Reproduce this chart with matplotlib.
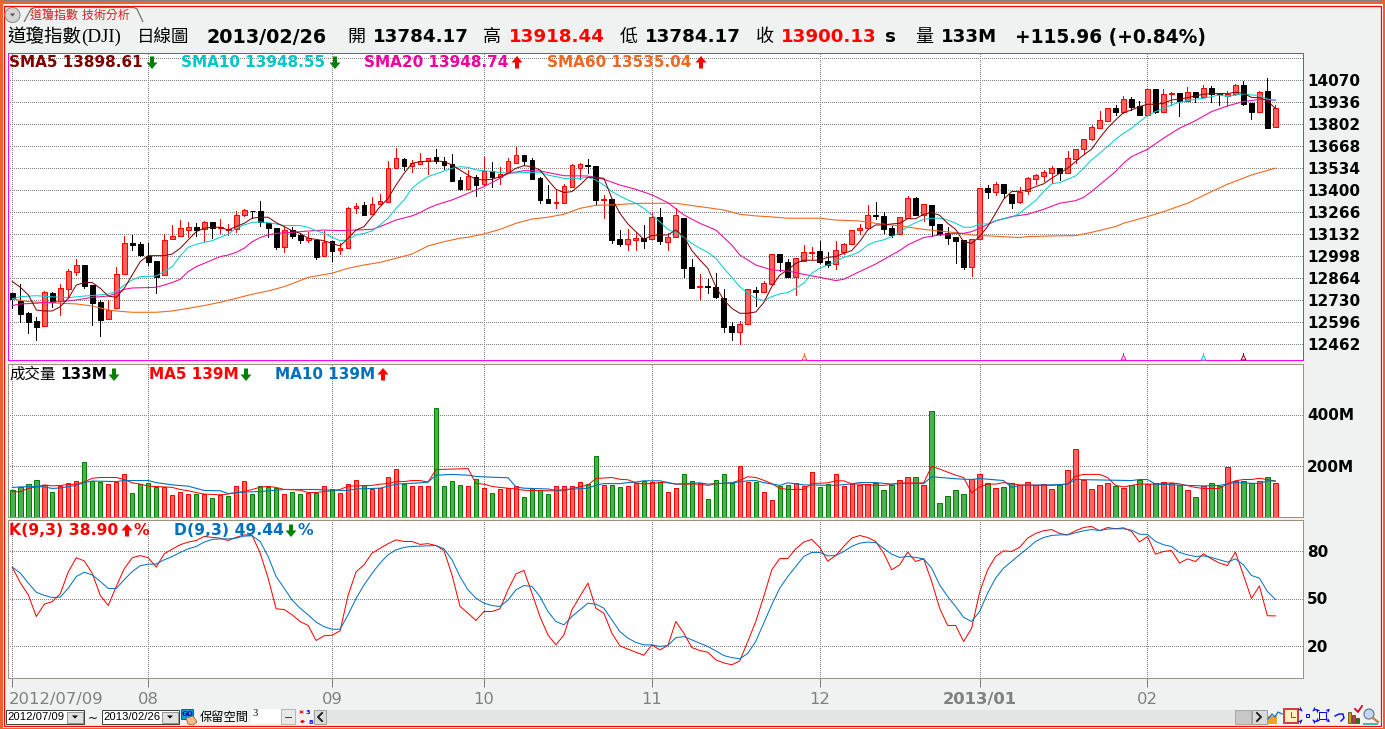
import matplotlib
matplotlib.use("Agg")
import matplotlib.pyplot as plt
from matplotlib.patches import Rectangle, Polygon, Circle
from matplotlib.transforms import ScaledTranslation

plt.rcParams['font.family'] = ['DejaVu Sans', 'Noto Sans CJK TC']

# ---------- data ----------
opens = [12773,12726,12653,12604,12572,12773,12728,12797,12905,12945,12823,12720,12614,12681,12888,13077,13073,13002,12970,12884,
13102,13120,13156,13175,13165,13205,13169,13156,13165,13252,13276,13272,13203,13169,13053,13156,13126,13100,13100,13002,
13089,13034,13047,13290,13309,13254,13319,13329,13538,13589,13550,13562,13577,13601,13577,13558,13463,13410,13483,13437,
13518,13479,13504,13569,13615,13585,13475,13347,13325,13325,13422,13538,13556,13548,13341,13347,13104,13075,13100,13108,
13102,13238,13087,13114,13231,12933,12809,12819,12811,12744,12574,12539,12588,12791,12783,12832,13012,12962,12874,12972,
13018,13031,12970,12949,13026,13071,13156,13169,13248,13242,13173,13132,13233,13353,13248,13309,13193,13138,13114,13095,
12935,13102,13412,13392,13436,13376,13331,13398,13471,13489,13508,13534,13508,13593,13650,13715,13782,13824,13899,13879,
13954,13912,13861,14015,13879,13985,13991,13946,13997,13970,14021,13991,13977,13989,14040,13930,13879,14005,13784.17]
highs = [12777,12830,12661,12631,12787,12783,12830,12919,12980,12945,12823,12732,12732,12931,13122,13128,13083,13077,12970,13132,
13189,13219,13207,13199,13211,13205,13225,13195,13272,13284,13276,13335,13203,13169,13175,13175,13138,13144,13100,13152,
13089,13077,13296,13321,13329,13357,13378,13579,13658,13597,13585,13625,13599,13650,13601,13621,13483,13524,13493,13601,
13571,13540,13597,13662,13615,13595,13479,13432,13402,13439,13558,13564,13589,13548,13370,13347,13158,13165,13148,13187,
13270,13290,13138,13290,13231,12982,12890,12860,12894,12799,12600,12602,12797,12809,12850,13010,13012,12982,12986,13067,
13057,13091,13024,13091,13081,13156,13195,13311,13329,13266,13183,13240,13365,13357,13315,13309,13193,13175,13114,13095,
13106,13412,13430,13451,13436,13376,13420,13479,13499,13522,13548,13534,13640,13650,13715,13798,13883,13899,13918,13975,
13966,13942,14019,14015,14017,13999,13991,14029,13997,14040,14033,13991,14005,14048,14068,13934,14005,14082,13918.44]
lows = [12681,12600,12533,12488,12572,12687,12641,12752,12884,12807,12580,12515,12614,12681,12888,13037,13000,12945,12777,12884,
13102,13120,13114,13124,13093,13112,13142,13128,13148,13246,13229,13185,13118,13045,13026,13112,13081,13087,12980,13002,
12970,13012,13047,13264,13252,13254,13319,13329,13534,13524,13514,13562,13499,13569,13528,13459,13402,13410,13365,13432,
13420,13439,13504,13569,13552,13469,13325,13325,13292,13325,13422,13467,13508,13309,13234,13081,13061,13037,13037,13049,
13102,13073,13037,13114,12872,12805,12738,12777,12746,12537,12488,12464,12588,12696,12783,12832,12911,12874,12763,12972,
12984,12959,12935,12923,13010,13071,13132,13169,13225,13142,13114,13132,13233,13250,13215,13122,13128,13073,12959,12921,
12878,13102,13353,13374,13351,13292,13323,13378,13439,13459,13447,13463,13508,13564,13619,13707,13782,13824,13859,13873,
13889,13861,13861,13873,13879,13920,13853,13946,13936,13970,13940,13920,13914,13979,13920,13834,13879,13782,13784.17]
closes = [12736,12649,12600,12570,12779,12720,12803,12907,12943,12817,12716,12610,12671,12888,13077,13067,13006,12965,12874,13095,
13120,13169,13175,13158,13205,13169,13179,13165,13248,13280,13272,13209,13173,13057,13156,13122,13100,13108,12996,13087,
13032,13047,13290,13307,13252,13319,13333,13538,13595,13550,13564,13577,13599,13577,13556,13459,13408,13487,13432,13518,
13479,13497,13577,13613,13579,13469,13341,13325,13331,13424,13552,13558,13550,13341,13347,13098,13073,13102,13108,13093,
13238,13093,13114,13248,12927,12805,12817,12813,12750,12568,12537,12584,12797,12781,12834,13010,12966,12874,12986,13022,
13024,12963,12945,13035,13073,13156,13169,13248,13242,13167,13128,13235,13351,13250,13315,13191,13134,13110,13093,12933,
13102,13412,13390,13436,13386,13323,13392,13473,13491,13510,13534,13508,13595,13650,13715,13784,13826,13899,13879,13954,
13910,13861,14015,13879,13985,13993,13946,13997,13970,14021,13987,13985,13989,14040,13926,13879,14001,13782,13900.13]

volumes = [102,116,129,145,125,98,121,133,141,212,141,135,129,136,165,94,129,133,114,116,
86,98,88,88,90,71,85,80,118,141,90,118,115,112,90,98,88,94,91,121,
106,94,129,145,125,106,112,153,188,129,121,118,121,427,121,141,125,118,149,110,
94,106,110,118,75,110,102,90,118,118,118,137,129,239,125,125,114,118,133,
141,136,136,98,110,165,141,133,67,145,165,133,200,136,137,98,63,118,122,133,
118,173,114,129,165,118,129,122,129,133,102,122,145,153,153,122,412,51,82,102,
90,149,165,133,110,114,133,125,137,122,129,106,122,184,263,145,106,125,133,118,
110,122,145,129,133,137,133,125,102,78,118,133,118,196,141,141,133,141,153,133]
volume_colors = list("ggggrgrrrg" "ggrrrggggr" "rrrgrgrgrr" "ggggrggrgr" "grrrgrrrrg" "rrrggggrgr" "grrrggggrr" "rrggrggrr"
                     "grgrrggrgg" "ggrrgrrggr" "rrggrrrrrg" "ggrrgrgggg" "grrgrggrrr" "rrgrrrrrrg" "rggrgrrgrg" "rggrrggrgr")

sma5 = [12844,12809,12763,12671,12665,12665,12691,12742,12823,12838,12838,12803,12756,12748,12803,12884,12966,13002,13002,13002,
13012,13047,13098,13148,13169,13175,13175,13158,13179,13199,13230,13236,13236,13203,13179,13154,13138,13108,13101,13093,
13077,13061,13108,13158,13179,13240,13300,13351,13432,13503,13564,13575,13577,13579,13575,13554,13524,13493,13467,13463,
13467,13483,13503,13534,13550,13544,13524,13463,13406,13386,13392,13432,13479,13479,13473,13351,13260,13195,13148,13101,
13124,13128,13128,13158,13118,13033,12976,12925,12813,12732,12681,12651,12651,12659,12716,12813,12884,12915,12955,12974,
12974,12974,12992,12996,13016,13033,13087,13158,13189,13189,13195,13199,13227,13227,13254,13264,13248,13199,13162,13087,
13077,13118,13179,13260,13345,13392,13394,13402,13422,13439,13473,13503,13534,13575,13615,13650,13717,13778,13828,13873,
13889,13910,13924,13924,13930,13950,13956,13964,13975,13985,13989,13989,13989,13997,13991,13966,13964,13946,13898.61]

sma10_idx = [0,1,3,6,7,9,11,12,13,14,15,16,18,19,20,21,22,23,24,25,26,27,28,29,30,31,32,33,34,36,37,38,39,40,41,42,43,44,45,46,47,48,49,50,51,52,53,
55,56,57,58,60,62,64,66,67,69,71,72,73,74,75,76,77,78,79,80,81,82,83,84,85,86,87,88,89,90,91,92,93,94,95,96,97,98,99,100,101,102,103,104,105,106,107,108,109,110,
111,112,113,114,115,116,117,118,119,120,121,122,123,124,125,126,127,128,129,130,131,132,133,134,135,136,137,138,139,140,141,142,143,144,145,146,147,148,149,150,151,152,153,154,155,156,157,158]
sma10_val = [12738,12752,12758,12748,12746,12756,12763,12769,12783,12823,12854,12874,12878,12905,12935,13000,13053,13071,13083,13093,13114,13132,13169,13189,13205,13207,13203,13195,13185,13185,13175,13154,13138,13114,13093,13098,13128,13138,13152,13189,13230,13290,13341,13412,13453,13483,13500,
13534,13544,13540,13524,13514,13503,13508,13510,13493,13473,13473,13479,13463,13432,13392,13365,13341,13321,13290,13250,13209,13162,13142,13114,13077,13047,13022,12986,12925,12870,12813,12773,12742,12728,12752,12769,12777,12803,12834,12895,12925,12945,12966,12992,13006,13026,13067,13087,13098,13118,
13142,13179,13203,13223,13230,13230,13219,13199,13175,13175,13195,13195,13215,13227,13236,13260,13300,13337,13392,13439,13447,13467,13487,13534,13585,13625,13666,13711,13747,13778,13818,13853,13879,13899,13920,13936,13946,13954,13960,13970,13981,13970,13981,13987,13981,13977,13956,13948.55]

sma20_idx = [0,1,3,4,6,8,10,12,13,14,15,18,19,20,21,22,23,24,25,26,27,28,29,30,31,32,33,35,37,39,41,43,45,46,47,48,50,51,52,53,55,56,57,59,61,62,64,66,67,69,72,74,76,78,80,82,84,86,88,90,91,93,95,97,99,101,103,104,106,108,110,111,112,114,116,118,119,120,121,123,125,127,129,131,133,134,135,137,138,139,140,142,144,146,148,150,152,154,156,158]
sma20_val = [12698,12708,12712,12716,12722,12732,12748,12756,12773,12797,12805,12809,12823,12838,12858,12905,12935,12955,12976,12996,13006,13022,13047,13087,13112,13128,13138,13144,13152,13158,13154,13158,13162,13179,13199,13219,13244,13264,13290,13311,13341,13361,13382,13422,13473,13503,13520,13518,13508,13489,13487,13467,13432,13406,13372,13325,13250,13199,13158,13067,13006,12945,12915,12909,12888,12870,12850,12858,12905,12951,13006,13033,13067,13112,13128,13138,13138,13148,13169,13213,13240,13254,13284,13321,13337,13357,13392,13473,13514,13565,13605,13650,13717,13778,13824,13879,13914,13940,13954,13948.74]

sma60_idx = [0,2,4,6,8,10,12,13,15,18,20,22,24,26,28,30,32,34,36,37,40,42,44,46,48,50,52,54,56,57,59,61,63,65,67,69,71,73,75,77,79,83,85,87,89,91,93,95,97,101,103,106,108,111,114,118,120,123,126,127,130,133,135,138,139,142,144,147,150,152,155,158]
sma60_val = [12738,12722,12716,12712,12708,12695,12671,12665,12657,12657,12665,12681,12698,12718,12742,12767,12787,12813,12850,12870,12895,12925,12945,12961,12986,13012,13061,13087,13108,13114,13134,13162,13199,13225,13236,13254,13290,13309,13311,13317,13321,13321,13307,13294,13280,13254,13244,13238,13230,13230,13219,13213,13199,13183,13162,13142,13128,13120,13112,13118,13122,13124,13144,13179,13199,13240,13270,13321,13392,13437,13493,13535.04]

volma5_idx = [0,1,2,3,4,5,6,7,8,9,10,11,12,13,14,15,16,17,19,20,21,22,23,24,26,27,28,29,30,31,32,33,34,35,36,37,38,39,40,41,42,43,45,46,47,48,49,50,51,52,53,55,57,58,59,60,61,63,64,65,67,69,70,72,73,75,76,77,78,
79,81,82,83,86,87,88,90,91,92,93,94,95,96,97,99,100,102,103,104,105,106,107,109,111,114,115,116,118,119,120,121,122,123,124,126,128,130,132,133,134,136,137,138,139,140,141,143,145,146,148,149,151,152,153,154,155,156,158]
volma5_val = [97,97,110,116,124,120,122,125,127,136,150,153,153,153,145,132,127,119,116,114,106,101,94,88,85,88,94,98,106,115,118,114,106,105,103,94,94,98,101,106,119,120,122,127,129,137,137,141,141,135,184,186,188,129,127,118,114,108,103,102,101,101,110,123,149,153,146,144,132,
127,133,132,127,127,122,128,132,142,156,153,142,129,111,106,106,129,132,140,140,128,127,124,122,131,132,197,186,162,153,93,116,127,127,133,124,123,122,127,158,165,165,153,122,116,122,127,127,132,128,114,110,110,129,140,145,145,150,139]

volma10_idx = [0,1,3,4,5,6,8,9,10,13,14,17,18,20,22,24,26,27,29,31,33,34,38,40,42,43,46,47,48,51,52,53,55,57,58,60,62,63,64,67,68,70,72,73,74,76,77,78,
79,81,83,86,87,88,90,92,93,94,96,97,99,103,105,106,108,110,111,114,115,118,120,121,124,125,126,130,132,133,140,141,142,143,146,149,151,153,156,157,158]
volma10_val = [114,116,118,116,110,112,122,133,139,137,141,141,133,124,119,102,101,90,96,98,103,106,106,103,102,108,111,119,127,132,135,162,165,162,157,154,152,116,111,108,103,107,111,123,129,129,133,135,
140,140,127,132,127,129,132,140,141,133,122,132,124,122,128,133,133,127,129,129,156,148,145,149,141,114,122,124,127,145,141,145,145,127,123,120,122,133,129,140,139]

k_values = [69.8,60,52.3,38.5,46.4,48,53,67,76,74,66,52,45.5,57.7,69,76,77.4,76,70,78.5,81.5,84.3,86,87,89.6,89,88.5,87,89,90.6,90.2,79,63,43.4,43,39.6,35.3,32.8,23.2,26.2,
26.6,29.4,52,67,71.5,79,82,85,87.4,86.4,86.4,84.5,85,83.8,80.6,65,45,40.6,36,41.7,41.7,43.4,55.5,65.7,67.9,53.4,38.5,26.8,20.4,26.8,42.8,51.3,59.8,43.8,40.6,27.9,19.8,17.7,15.7,13.8,
20.4,17.2,20,35.3,27.9,18.7,16.8,15.7,10.9,8.9,7.7,10.2,22.6,35.3,51.3,68.3,75.5,75.5,81.7,86,87.7,82.6,73.8,77.4,83.2,88.5,90.2,88.9,86.4,79,68.3,71.5,79.6,73.6,75.3,60.9,43.8,32.8,32.8,22.6,
31,54,68.3,76.8,80.4,80,82.6,88.5,91.5,93.2,94,91.5,90.6,93.2,95.3,96,93.2,95.3,94.5,95.1,92.8,86,89.6,78.3,80,80.6,72.6,75.3,73.6,78.5,75.3,72.6,71,79.6,65,50,58,39,38.9]
d_values = [70,66.2,59.8,54,52,50.6,50.9,56.6,64,66.8,65,60.9,56.4,56.4,62,67.2,70.9,71.9,72,74.7,76.8,79.4,81.7,83.2,86,87.7,88,88,88.5,89.8,90,86.4,76.8,64,56.6,49,43.8,39.6,34.9,32,
30.4,30.4,39.6,50,58.7,66,72.6,77.9,81,82.6,83.2,83.4,83.6,83.8,81.7,74.7,64,55.5,50.2,47,45.5,44.9,49,55.5,58.3,57.7,51.3,41.7,35.3,33.2,38.5,42.8,47,46.4,43.8,36.4,28.9,24.7,22,20.4,
20.4,19.4,20,25,25.7,23.6,21.5,19.4,16.6,13.6,12.3,11.5,15,22.6,34.3,46,56.6,64,70.4,76.8,79.4,79.4,77.2,77.4,80,83.2,85.3,86,85.7,82,78.3,76.2,76.8,76.2,75.3,69.4,58.7,51.3,44.9,38,
35.3,41.7,53.4,63,69.4,73.6,77.9,82,86.4,88.9,90.2,90.6,90.6,91.9,93.2,94,93.4,94.3,94.5,94.5,93.6,91,90.9,86.4,84.3,83.2,79.4,77.9,76.8,77.2,76.2,74.7,73.2,75.3,71.5,64.7,63,54.5,49.44]

month_idx = [0,17,40,59,80,101,121,142]
month_labels = ['2012/07/09','08','09','10','11','12','2013/01','02']
price_ticks = [14204,14070,13936,13802,13668,13534,13400,13266,13132,12998,12864,12730,12596,12462]
price_tick_labels = ['','14070','13936','13802','13668','13534','13400','13266','13132','12998','12864','12730','12596','12462']
vol_ticks = [200,400]
vol_tick_labels = ['200M','400M']
kd_ticks = [20,50,80]
signal_idx = [99,139,149,154]
signal_colors = ['#F06820','#F010B0','#00D0D0','#800000']

# ---------- figure ----------
W, H = 1385, 729
BG = '#F0F2F2'
fig = plt.figure(figsize=(W/100, H/100), dpi=100, facecolor=BG)
PX = 0.72
L, R = 7.5, 1303.0
SP = 7.994
XLIM = ((L-12.33)/SP, (R-12.33)/SP)
BOLD_SIZE = 11

def panel(top, bottom, border):
    ax = fig.add_axes([L/W, 1-bottom/H, (R-L)/W, (bottom-top)/H], zorder=1)
    ax.set_xlim(*XLIM)
    for s in ax.spines.values():
        s.set_color(border); s.set_linewidth(1.0*PX)
    ax.set_axisbelow(True)
    ax.yaxis.tick_right()
    ax.tick_params(axis='y', length=0, pad=2.8, labelsize=BOLD_SIZE, labelcolor='black')
    ax.set_xticks(month_idx)
    ax.grid(True, color='#808080', linewidth=1.0*PX, linestyle=(0.5, (1, 1)), antialiased=True)
    return ax

main = panel(52.5, 360.5, '#FF00FF')
vol = panel(363.5, 516.5, '#A09080')
kd = panel(519.5, 677.5, '#A09080')

x = list(range(len(closes)))

# main panel
main.set_ylim(12363.3, 14239.3)
main.set_yticks(price_ticks, price_tick_labels, fontweight='bold')
main.tick_params(axis='x', length=0, labelbottom=False)
for i in x:
    up = closes[i] >= opens[i]
    edge = '#FF0000' if up else '#000000'
    face = '#FF6060' if up else '#000000'
    main.vlines(i, lows[i], highs[i], color=edge, linewidth=1.0*PX, antialiased=False, zorder=3)
    lo, hi = min(opens[i], closes[i]), max(opens[i], closes[i])
    main.bar(i, hi-lo, bottom=lo, width=0.6, facecolor=face, edgecolor=edge, linewidth=1.0*PX, zorder=3)
lkw = dict(linewidth=1.0*PX, antialiased=True, zorder=4)
hkw = dict(linewidth=1.1*PX, antialiased=True, zorder=4)
main.plot(sma60_idx, sma60_val, color='#F06820', **hkw)
main.plot(sma20_idx, sma20_val, color='#F010A0', **hkw)
main.plot(sma10_idx, sma10_val, color='#00D0D0', **lkw)
main.plot(x, sma5, color='#800000', **lkw)
for i, c in zip(signal_idx, signal_colors):
    main.vlines(i, 12363, 12412, color=c, linewidth=1.0*PX, antialiased=False, zorder=4)
    main.plot([i], [12385], marker='^', markersize=3.5, markerfacecolor='white', markeredgecolor=c,
              markeredgewidth=0.7, zorder=5)

# volume panel
vol.set_ylim(0, 153*200/51)
vol.set_yticks(vol_ticks, vol_tick_labels, fontweight='bold')
vol.tick_params(axis='x', length=0, labelbottom=False)
for i in x:
    g = volume_colors[i] == 'g'
    vol.bar(i, volumes[i], width=0.55, facecolor='#4CB050' if g else '#FF6060',
            edgecolor='#008000' if g else '#FF0000', linewidth=1.0*PX, zorder=3)
vol.plot(volma5_idx, volma5_val, color='#FF0000', **lkw)
vol.plot(volma10_idx, volma10_val, color='#0070C0', **hkw)

# KD panel
kd.set_ylim(-0.4, 100.4)
kd.set_yticks(kd_ticks, [str(t) for t in kd_ticks], fontweight='bold')
kd.plot(x, k_values, color='#FF0000', **lkw)
kd.plot(x, d_values, color='#0070C0', **lkw)
kd.set_xticks(month_idx, month_labels)
kd.tick_params(axis='x', length=6.5, width=1.0*PX, color='#808080', labelcolor='#808080', labelsize=11.8, pad=4)
labs = kd.get_xticklabels()
labs[6].set_fontweight('bold')
labs[0].set_ha('left')
labs[0].set_transform(labs[0].get_transform() + ScaledTranslation(-4/100, 0, fig.dpi_scale_trans))

# ---------- window chrome and header on a pixel overlay ----------
ov = fig.add_axes([0, 0, 1, 1], zorder=10)
ov.set_xlim(0, W); ov.set_ylim(H, 0); ov.axis('off'); ov.patch.set_alpha(0)

def rect(x0, y0, x1, y1, fc='none', ec='none', lw=1.0, z=2):
    ov.add_patch(Rectangle((x0, y0), x1-x0, y1-y0, facecolor=fc, edgecolor=ec, linewidth=lw*PX, zorder=z))

def T(x, y, s, color='black', px=15.3, weight='normal', ha='left', family=None):
    kw = {}
    if family: kw['family'] = family
    ov.text(x, y, s, color=color, fontsize=px*PX, fontweight=weight, ha=ha, va='center', zorder=6, **kw)

def arrow(xc, yc, up, color):
    s = -1 if up else 1
    ov.add_patch(Polygon([(xc-2, yc-6*s), (xc+2, yc-6*s), (xc+2, yc), (xc+5.5, yc), (xc, yc+6.5*s), (xc-5.5, yc), (xc-2, yc)],
                         facecolor=color, edgecolor='none', zorder=6))

# frame
rect(0, 0, W, 1.2, fc='#808080')
rect(0, 1.2, W, 4, fc='#F06030')
rect(0, 0, 2.5, H, fc='#F06030')
rect(W-3, 0, W, H, fc='#F06030')
rect(0, H-2.5, W, H, fc='#F06030')
rect(2.5, 4, W-3, H-2.5, fc='none', ec='white', lw=1)
rect(3.5, 5.5, 1380.5, 725.5, fc='none', ec='#FF0000', lw=1.2)

# tab
ov.add_patch(Circle((12.5, 15), 7.5, facecolor='#D4D4D4', edgecolor='#909090', linewidth=0.8, zorder=3))
ov.add_patch(Polygon([(10, 13.5), (15, 13.5), (12.5, 16.5)], facecolor='#505050', edgecolor='none', zorder=4))
ov.add_patch(Polygon([(24, 22), (31, 9), (35, 7.5), (134, 7.5), (137, 9), (143, 22)], closed=False, facecolor='#F0F2F2',
                     edgecolor='#707070', linewidth=0.9, zorder=3))
T(30, 15.5, '道瓊指數 技術分析', '#D02020', 12)

# header
hy = 37
T(7, hy, '道瓊指數', 'black', 18.5)
T(81, hy, '(DJI)', 'black', 19, family='Liberation Serif')
T(137, hy, '日線圖', 'black', 17.5)
T(207, hy, '2013/02/26', 'black', 19.1, 'bold')
T(347, hy, '開', 'black', 18)
T(373, hy, '13784.17', 'black', 18.3, 'bold')
T(483, hy, '高', 'black', 18)
T(509, hy, '13918.44', '#FF0000', 18.3, 'bold')
T(620, hy, '低', 'black', 18)
T(645, hy, '13784.17', 'black', 18.3, 'bold')
T(756, hy, '收', 'black', 18)
T(781, hy, '13900.13', '#FF0000', 18.3, 'bold')
T(885, hy, 's', 'black', 18.3, 'bold')
T(915, hy, '量', 'black', 18)
T(941, hy, '133M', 'black', 18.3, 'bold')
T(1015, hy, '+115.96 (+0.84%)', 'black', 18.6, 'bold')

# legends
ly = 62.5
T(9, ly, 'SMA5 13898.61', '#800000', 15.3, 'bold'); arrow(152, ly, False, '#008000')
T(181, ly, 'SMA10 13948.55', '#00C8C8', 15.3, 'bold'); arrow(335, ly, False, '#008000')
T(364, ly, 'SMA20 13948.74', '#F000A0', 15.3, 'bold'); arrow(517, ly, True, '#FF0000')
T(547, ly, 'SMA60 13535.04', '#F06820', 15.3, 'bold'); arrow(701, ly, True, '#FF0000')
vy = 374.5
T(9, vy, '成交量', 'black', 15.5)
T(60, vy, '133M', 'black', 15.3, 'bold'); arrow(114, vy, False, '#008000')
T(149, vy, 'MA5 139M', '#FF0000', 15.3, 'bold'); arrow(246, vy, False, '#008000')
T(275, vy, 'MA10 139M', '#0070C0', 15.3, 'bold'); arrow(383, vy, True, '#FF0000')
ky = 530.5
T(9, ky, 'K(9,3) 38.90', '#FF0000', 15.6, 'bold'); arrow(127, ky, True, '#FF0000')
T(134, ky, '%', '#FF0000', 15.6, 'bold')
T(174, ky, 'D(9,3) 49.44', '#0070C0', 15.6, 'bold'); arrow(291, ky, False, '#008000')
T(298, ky, '%', '#0070C0', 15.6, 'bold')

# bottom toolbar
rect(313, 710, 1267, 724, fc='#E4E6E6', z=1)
def combo(x0, x1, s):
    rect(x0, 710, x1, 724, fc='white', ec='#404040', lw=1)
    T(x0+1, 717.5, s, 'black', 11.2, family='Liberation Sans')
    rect(x1-17, 711.5, x1-1.5, 722.5, fc='#E0E0E0', ec='#808080', lw=0.8, z=3)
    ov.add_patch(Polygon([(x1-12, 715.5), (x1-6, 715.5), (x1-9, 718.5)], facecolor='black', edgecolor='none', zorder=4))
combo(6, 84, '2012/07/09')
T(88, 718, '~', 'black', 12, family='DejaVu Sans')
combo(102, 179, '2013/02/26')
rect(181, 709, 193, 719, fc='#00A0E0', ec='#0040A0', lw=0.8)
T(187, 714, 'GO', '#0000A0', 7, 'bold', ha='center')
ov.add_patch(Polygon([(186, 718), (193, 716), (197, 722), (193, 725), (188, 724)], facecolor='#F0C090', edgecolor='#A06030', linewidth=0.6, zorder=4))
T(200, 717.5, '保留空間', 'black', 12.2)
rect(251, 709, 281, 724, fc='white')
T(252, 714, '3', 'black', 10.5, family='Liberation Serif')
rect(281, 709, 295, 724, fc='#E8E8E8', ec='#A0A0A0', lw=0.7)
ov.plot([285, 291], [716.5, 716.5], color='#404040', linewidth=0.7, zorder=4)
ov.annotate('', xy=(306, 712), xytext=(297, 712), arrowprops=dict(arrowstyle='<->', color='#FF0000', lw=0.7, mutation_scale=4))
T(306, 712, '3', '#0000FF', 6.5, 'bold')
ov.annotate('', xy=(308, 721.5), xytext=(297, 721.5), arrowprops=dict(arrowstyle='<->', color='#FF0000', lw=0.7, mutation_scale=4))
T(308.5, 722, '8', '#0000FF', 6.5, 'bold')
rect(314, 710, 326, 724, fc='#DADADA', ec='#A0A0A0', lw=1)
ov.plot([322, 318, 322], [713, 717, 721], color='#202020', linewidth=1.4, zorder=4)
rect(1235, 710, 1251, 724, fc='#C8C8C8', ec='#A8A8A8', lw=1)
rect(1252, 710, 1267, 724, fc='#DADADA', ec='#A0A0A0', lw=1)
ov.plot([1257, 1261, 1257], [713, 717, 721], color='#202020', linewidth=1.4, zorder=4)
# right-hand icons
rect(1268, 716, 1277, 724, fc='#F0A030')
ov.plot([1268, 1272, 1275, 1278, 1282], [719, 714, 717, 712, 714], color='#1070D0', linewidth=0.9, zorder=4)
rect(1284, 709, 1298, 723, fc='#FFF0C0', ec='#D04040', lw=2)
ov.plot([1291, 1291, 1295], [712, 717, 717], color='#806000', linewidth=0.7, zorder=4)
rect(1306, 714, 1309, 717, fc='none', ec='#0000FF', lw=1)
for (a, b, c, d) in [(1300, 709, 1304, 713), (1315, 709, 1311, 713), (1300, 722, 1304, 718), (1315, 722, 1311, 718)]:
    ov.annotate('', xy=(c, d), xytext=(a, b), arrowprops=dict(arrowstyle='->', color='#0000FF', lw=0.8, mutation_scale=4))
rect(1319, 712, 1326, 719, fc='none', ec='#0000FF', lw=1)
for (a, b, c, d) in [(1319, 712, 1316, 709), (1326, 712, 1330, 709), (1319, 719, 1316, 722), (1326, 719, 1330, 722)]:
    ov.annotate('', xy=(c, d), xytext=(a, b), arrowprops=dict(arrowstyle='->', color='#0000FF', lw=0.8, mutation_scale=4))
ov.plot([1335, 1339, 1343, 1344, 1341], [716, 714, 714, 718, 721], color='#0000FF', linewidth=1.0, zorder=4)
rect(1348, 712, 1351, 723, fc='#D0A000', ec='black', lw=0.5)
rect(1352, 715, 1355, 723, fc='#E03030', ec='black', lw=0.5)
rect(1356, 718, 1359, 723, fc='#208020', ec='black', lw=0.5)
ov.plot([1355, 1358, 1362], [709, 712, 706], color='#E00020', linewidth=1.3, zorder=4)
ov.add_patch(Circle((1369, 714), 5, facecolor='#C0D8F0', edgecolor='#607090', linewidth=0.8, zorder=4))
ov.plot([1373, 1378], [718, 722], color='#C08040', linewidth=1.6, zorder=4)
rect(1363, 723, 1378, 724.5, fc='#30C0C0')

fig.savefig('out.png', dpi=100, facecolor=BG)
